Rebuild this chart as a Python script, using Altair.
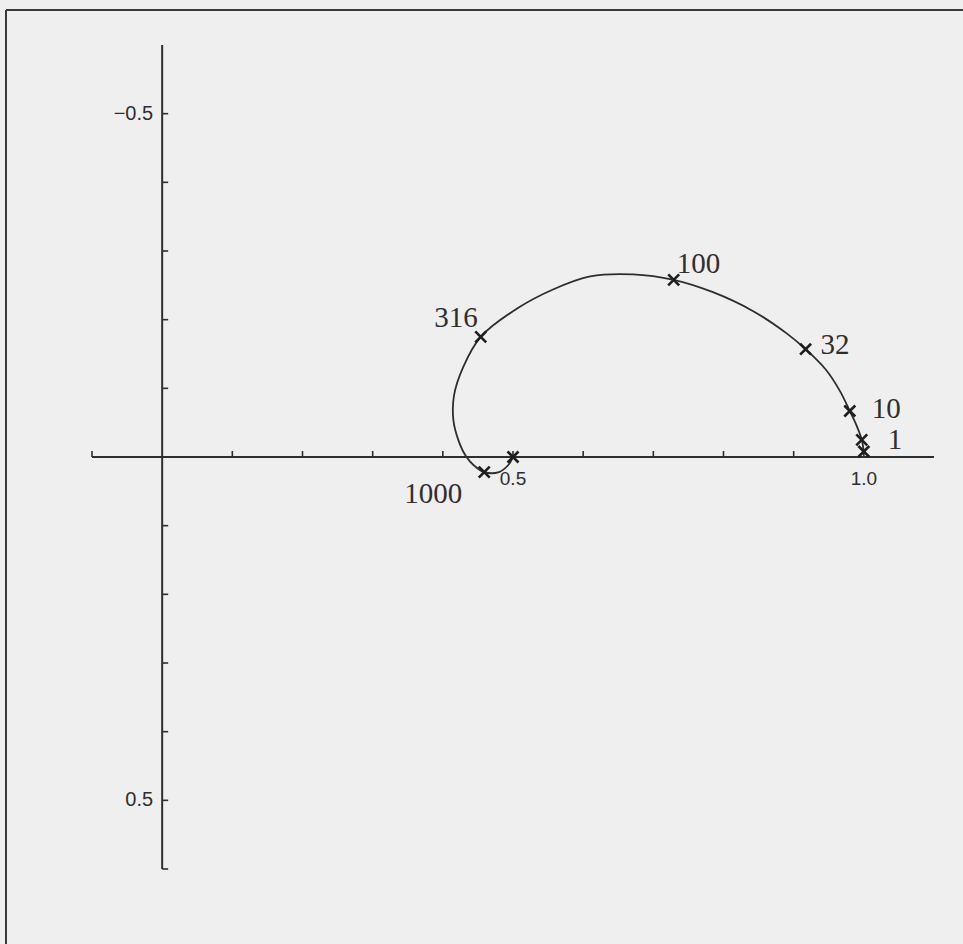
import altair as alt
import pandas as pd

# Locus traced from low to high frequency: real part and imaginary part
# (imaginary axis points downward, negative values on top)
curve_re = [1.000, 0.997, 0.990, 0.980, 0.966, 0.946, 0.917, 0.890, 0.843,
            0.785, 0.729, 0.671, 0.610, 0.557, 0.507, 0.454, 0.429, 0.416,
            0.415, 0.422, 0.433, 0.444, 0.459, 0.480, 0.493, 0.500]
curve_im = [-0.007, -0.025, -0.045, -0.067, -0.096, -0.127, -0.157, -0.180,
            -0.212, -0.240, -0.258, -0.266, -0.263, -0.244, -0.217, -0.175,
            -0.131, -0.090, -0.054, -0.025, -0.001, 0.012, 0.022, 0.022,
            0.012, 0.000]

# Marked frequencies along the locus
freq_labels = ["1", "10", "32", "100", "316", "1000"]
freq_re = [0.997, 0.980, 0.917, 0.729, 0.454, 0.459]
freq_im = [-0.025, -0.067, -0.157, -0.258, -0.175, 0.022]

# Unlabelled end points of the locus
end_re = [1.000, 0.500]
end_im = [-0.008, 0.000]

# Axes
x_extent = [-0.1, 1.1]
y_extent = [-0.6, 0.6]
x_ticks = [-0.1, 0.1, 0.2, 0.3, 0.4, 0.5, 0.6, 0.7, 0.8, 0.9, 1.0]
y_ticks = [-0.5, -0.4, -0.3, -0.2, -0.1, 0.1, 0.2, 0.3, 0.4, 0.5, 0.6]
x_label_vals = [0.5, 1.0]
x_label_text = ["0.5", "1.0"]
y_label_vals = [-0.5, 0.5]
y_label_text = ["\u22120.5", "0.5"]

INK = "#2e2e2e"
BG = "#efefef"
PLOT_W, PLOT_H = 842, 824
PAD_L, PAD_T = 92, 45
TOTAL_W, TOTAL_H = 963, 944

xs = alt.Scale(domain=x_extent, nice=False, zero=False)
ys = alt.Scale(domain=y_extent, nice=False, zero=False, reverse=True)


def X(field):
    return alt.X(field, type="quantitative", scale=xs, axis=None)


def Y(field):
    return alt.Y(field, type="quantitative", scale=ys, axis=None)


curve_df = pd.DataFrame({"re": curve_re, "im": curve_im,
                         "i": list(range(len(curve_re)))})
freq_df = pd.DataFrame({"re": freq_re, "im": freq_im, "f": freq_labels})
end_df = pd.DataFrame({"re": end_re, "im": end_im})
xt_df = pd.DataFrame({"re": x_ticks, "im": [0.0] * len(x_ticks)})
yt_df = pd.DataFrame({"re": [0.0] * len(y_ticks), "im": y_ticks})
xl_df = pd.DataFrame({"re": x_label_vals, "im": [0.0] * 2, "t": x_label_text})
yl_df = pd.DataFrame({"re": [0.0] * 2, "im": y_label_vals, "t": y_label_text})
xaxis_df = pd.DataFrame({"re": [x_extent[0]], "re2": [x_extent[1]], "im": [0.0]})
yaxis_df = pd.DataFrame({"re": [0.0], "im": [y_extent[0]], "im2": [y_extent[1]]})
one_df = pd.DataFrame({"k": [0]})

# Crossing axes through the origin
x_axis = alt.Chart(xaxis_df).mark_rule(color=INK, strokeWidth=2).encode(
    x=X("re"), x2="re2:Q", y=Y("im"))
y_axis = alt.Chart(yaxis_df).mark_rule(color=INK, strokeWidth=2).encode(
    x=X("re"), y=Y("im"), y2="im2:Q")

x_tick_marks = alt.Chart(xt_df).mark_point(
    shape="M0,0L0,-1", size=144, filled=False, stroke=INK, strokeWidth=1.6,
    opacity=1).encode(x=X("re"), y=Y("im"))
y_tick_marks = alt.Chart(yt_df).mark_point(
    shape="M0,0L1,0", size=144, filled=False, stroke=INK, strokeWidth=1.6,
    opacity=1).encode(x=X("re"), y=Y("im"))

x_labels = alt.Chart(xl_df).mark_text(
    font="Liberation Sans", fontSize=19, color=INK, align="center",
    baseline="middle", dy=22).encode(x=X("re"), y=Y("im"), text="t:N")
y_labels = alt.Chart(yl_df).mark_text(
    font="Liberation Sans", fontSize=20, color=INK, align="right",
    baseline="middle", dx=-9).encode(x=X("re"), y=Y("im"), text="t:N")

locus = alt.Chart(curve_df).mark_line(
    color=INK, strokeWidth=1.8, interpolate="catmull-rom").encode(
    x=X("re"), y=Y("im"), order="i:Q")

cross = "M-1,-1L1,1M-1,1L1,-1"
markers = alt.Chart(freq_df).mark_point(
    shape=cross, size=120, filled=False, stroke="#1e1e1e", strokeWidth=2.6,
    opacity=1).encode(x=X("re"), y=Y("im"))
end_markers = alt.Chart(end_df).mark_point(
    shape=cross, size=120, filled=False, stroke="#1e1e1e", strokeWidth=2.6,
    opacity=1).encode(x=X("re"), y=Y("im"))

# Frequency labels: alignment and pixel offset from each marker
label_style = {
    "1": ("left", 26, 0),
    "10": ("left", 22, -2),
    "32": ("left", 15, -4),
    "100": ("left", 3, -16),
    "316": ("right", -3, -19),
    "1000": ("right", -22, 22),
}
freq_text = []
for lab in freq_labels:
    al, dx, dy = label_style[lab]
    freq_text.append(
        alt.Chart(freq_df).transform_filter(alt.datum.f == lab).mark_text(
            font="Liberation Serif", fontSize=29, color=INK, align=al,
            baseline="middle", dx=dx, dy=dy).encode(
            x=X("re"), y=Y("im"), text="f:N"))

# Page frame (top and left edges)
frame_left = alt.Chart(one_df).mark_rule(color="#3a3a3a", strokeWidth=2).encode(
    x=alt.value(6 - PAD_L), y=alt.value(10 - PAD_T),
    y2=alt.value(TOTAL_H - PAD_T))
frame_top = alt.Chart(one_df).mark_rule(color="#3a3a3a", strokeWidth=2).encode(
    x=alt.value(6 - PAD_L), x2=alt.value(TOTAL_W - PAD_L),
    y=alt.value(10 - PAD_T))

chart = alt.layer(
    frame_left, frame_top, x_axis, y_axis, x_tick_marks, y_tick_marks,
    x_labels, y_labels, locus, markers, end_markers, *freq_text
).properties(
    width=PLOT_W, height=PLOT_H,
    padding={"left": PAD_L, "top": PAD_T,
             "right": TOTAL_W - PAD_L - PLOT_W,
             "bottom": TOTAL_H - PAD_T - PLOT_H},
    autosize=alt.AutoSizeParams(type="none"),
    background=BG,
).configure_view(stroke=None)

chart.save("out.html", embed_options={"renderer": "svg", "actions": False})
